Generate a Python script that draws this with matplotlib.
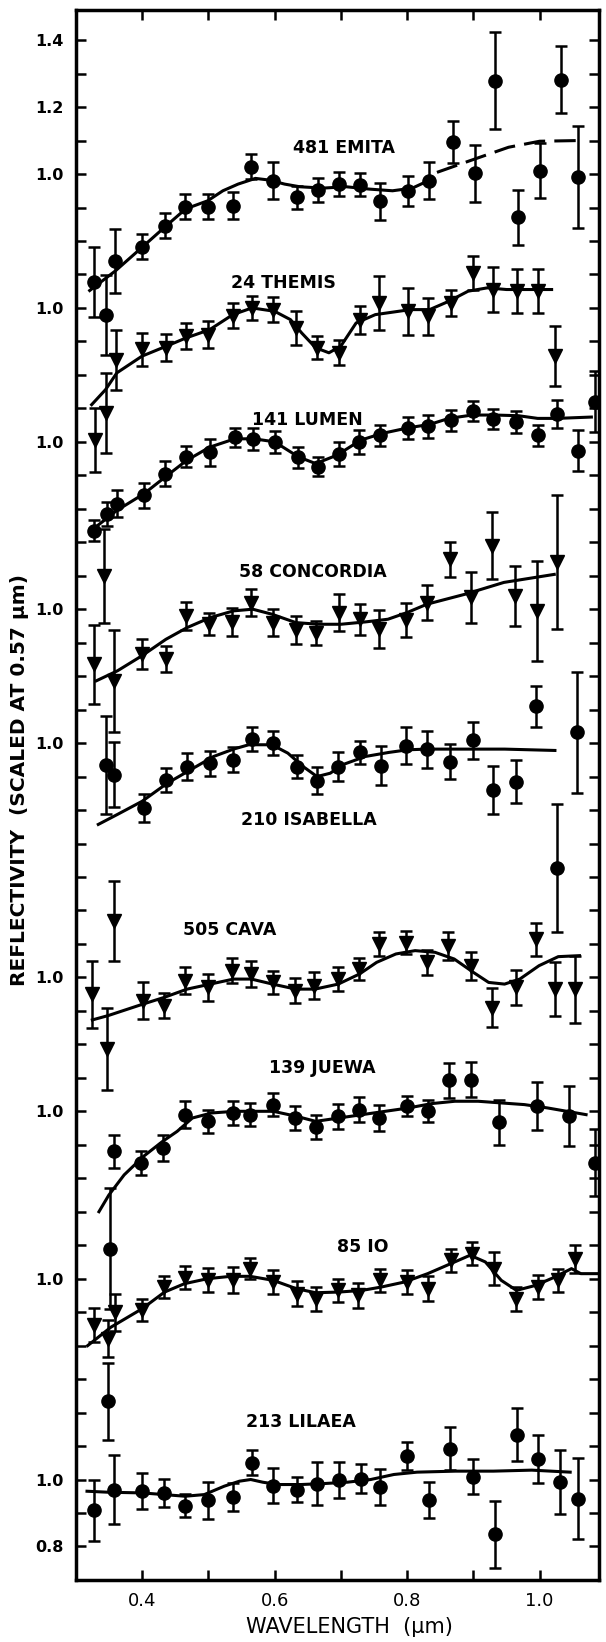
import numpy as np
import matplotlib.pyplot as plt

# ---------------- data ----------------
# wavelength (um), reflectivity scaled at 0.57 um, 1-sigma error, hand-drawn fit

emita_wl = [0.327, 0.345, 0.359, 0.40, 0.434, 0.465, 0.50, 0.537, 0.565, 0.598, 0.634, 0.665,
            0.697, 0.729, 0.759, 0.802, 0.833, 0.869, 0.902, 0.933, 0.968, 1.00, 1.032, 1.058]
emita_r = [0.677, 0.578, 0.741, 0.783, 0.846, 0.902, 0.903, 0.905, 1.022, 0.980, 0.930, 0.952,
           0.970, 0.968, 0.918, 0.950, 0.980, 1.095, 1.002, 1.279, 0.871, 1.010, 1.282, 0.992]
emita_err = [0.105, 0.12, 0.095, 0.037, 0.037, 0.037, 0.037, 0.04, 0.038, 0.055, 0.035, 0.035,
             0.035, 0.035, 0.055, 0.045, 0.055, 0.062, 0.085, 0.145, 0.082, 0.082, 0.10, 0.153]
emita_fit_wl = [0.321, 0.36, 0.40, 0.434, 0.466, 0.499, 0.522, 0.545, 0.571, 0.592, 0.615, 0.638,
                0.673, 0.708, 0.743, 0.778, 0.808, 0.834]
emita_fit_r = [0.652, 0.711, 0.781, 0.841, 0.896, 0.92, 0.95, 0.97, 0.987, 0.982, 0.97, 0.962,
               0.958, 0.962, 0.955, 0.95, 0.958, 0.982]
emita_ext_wl = [0.845, 0.895, 0.953, 1.0, 1.058]
emita_ext_r = [1.005, 1.04, 1.08, 1.098, 1.10]

themis_wl = [0.329, 0.345, 0.36, 0.40, 0.436, 0.466, 0.50, 0.537, 0.566, 0.598, 0.633, 0.664,
             0.697, 0.729, 0.758, 0.802, 0.831, 0.866, 0.90, 0.93, 0.966, 0.998, 1.023]
themis_r = [0.606, 0.687, 0.845, 0.876, 0.881, 0.916, 0.920, 0.977, 1.0, 0.995, 0.940, 0.881,
            0.866, 0.965, 1.015, 0.99, 0.975, 1.015, 1.104, 1.055, 1.05, 1.05, 0.856]
themis_err = [0.095, 0.12, 0.09, 0.048, 0.04, 0.04, 0.04, 0.038, 0.037, 0.037, 0.05, 0.035,
              0.037, 0.042, 0.08, 0.07, 0.055, 0.04, 0.05, 0.066, 0.066, 0.066, 0.09]
themis_fit_wl = [0.324, 0.345, 0.362, 0.40, 0.437, 0.466, 0.502, 0.537, 0.566, 0.60, 0.624, 0.641,
                 0.662, 0.682, 0.70, 0.723, 0.752, 0.805, 0.834, 0.863, 0.892, 0.921, 0.95, 1.018]
themis_fit_r = [0.711, 0.756, 0.806, 0.856, 0.886, 0.91, 0.935, 0.98, 1.0, 0.99, 0.965, 0.925,
                0.881, 0.866, 0.886, 0.955, 0.98, 0.995, 0.995, 1.02, 1.05, 1.06, 1.055, 1.055]

lumen_wl = [0.328, 0.347, 0.362, 0.403, 0.435, 0.467, 0.502, 0.54, 0.568, 0.60, 0.636, 0.665,
            0.697, 0.728, 0.759, 0.802, 0.831, 0.866, 0.899, 0.93, 0.965, 0.997, 1.026, 1.058, 1.084]
lumen_r = [0.735, 0.785, 0.815, 0.84, 0.905, 0.956, 0.969, 1.014, 1.009, 1.0, 0.954, 0.926,
           0.964, 1.0, 1.019, 1.042, 1.046, 1.064, 1.093, 1.069, 1.059, 1.019, 1.084, 0.974, 1.12]
lumen_err = [0.03, 0.035, 0.04, 0.037, 0.037, 0.032, 0.04, 0.028, 0.032, 0.032, 0.032, 0.028,
             0.035, 0.035, 0.032, 0.033, 0.035, 0.032, 0.03, 0.03, 0.033, 0.03, 0.042, 0.062, 0.092]
lumen_fit_wl = [0.333, 0.362, 0.403, 0.435, 0.467, 0.502, 0.54, 0.569, 0.60, 0.636, 0.662, 0.694,
                0.73, 0.762, 0.802, 0.834, 0.863, 0.898, 0.933, 0.968, 0.997, 1.026, 1.078]
lumen_fit_r = [0.75, 0.795, 0.845, 0.895, 0.944, 0.984, 1.009, 1.009, 1.0, 0.955, 0.935, 0.96,
               1.005, 1.025, 1.042, 1.052, 1.07, 1.08, 1.08, 1.078, 1.07, 1.07, 1.074]

concordia_wl = [0.327, 0.343, 0.358, 0.40, 0.436, 0.467, 0.501, 0.536, 0.565, 0.598, 0.633, 0.663,
                0.697, 0.729, 0.758, 0.799, 0.83, 0.864, 0.897, 0.928, 0.962, 0.996, 1.026]
concordia_r = [0.836, 1.099, 0.786, 0.866, 0.851, 0.98, 0.955, 0.962, 1.02, 0.96, 0.938, 0.93,
               0.99, 0.97, 0.94, 0.968, 1.02, 1.149, 1.035, 1.189, 1.04, 0.995, 1.14]
concordia_err = [0.118, 0.14, 0.153, 0.045, 0.039, 0.042, 0.033, 0.042, 0.04, 0.04, 0.041, 0.036,
                 0.054, 0.047, 0.057, 0.051, 0.052, 0.052, 0.075, 0.1, 0.09, 0.15, 0.2]
concordia_fit_wl = [0.331, 0.363, 0.40, 0.436, 0.468, 0.503, 0.538, 0.567, 0.596, 0.632, 0.666,
                    0.70, 0.737, 0.771, 0.80, 0.83, 0.888, 0.946, 1.022]
concordia_fit_r = [0.786, 0.816, 0.861, 0.91, 0.945, 0.975, 0.995, 1.0, 0.985, 0.96, 0.955,
                   0.955, 0.962, 0.97, 0.99, 1.015, 1.045, 1.08, 1.104]

isabella_wl = [0.345, 0.358, 0.403, 0.436, 0.468, 0.502, 0.538, 0.566, 0.598, 0.634, 0.664, 0.696,
               0.729, 0.76, 0.799, 0.83, 0.865, 0.899, 0.93, 0.964, 0.995, 1.026, 1.056]
isabella_r = [0.935, 0.905, 0.806, 0.89, 0.93, 0.94, 0.95, 1.012, 1.0, 0.93, 0.888, 0.93,
              0.972, 0.933, 0.992, 0.982, 0.945, 1.008, 0.861, 0.885, 1.11, 0.627, 1.032]
isabella_err = [0.147, 0.097, 0.041, 0.035, 0.04, 0.037, 0.037, 0.035, 0.036, 0.035, 0.04, 0.042,
                0.035, 0.057, 0.055, 0.055, 0.052, 0.055, 0.072, 0.065, 0.062, 0.19, 0.18]
isabella_fit_wl = [0.334, 0.363, 0.40, 0.438, 0.473, 0.508, 0.538, 0.561, 0.596, 0.62, 0.643,
                   0.664, 0.684, 0.702, 0.737, 0.772, 0.801, 0.83, 0.888, 0.947, 1.023]
isabella_fit_r = [0.757, 0.787, 0.826, 0.88, 0.92, 0.96, 0.982, 0.995, 0.995, 0.97, 0.93,
                  0.9, 0.91, 0.935, 0.96, 0.972, 0.98, 0.982, 0.982, 0.982, 0.978]

cava_wl = [0.325, 0.347, 0.358, 0.401, 0.433, 0.465, 0.499, 0.536, 0.565, 0.598, 0.631, 0.66,
           0.695, 0.728, 0.757, 0.798, 0.83, 0.862, 0.897, 0.928, 0.964, 0.994, 1.023, 1.054]
cava_r = [0.95, 0.786, 1.169, 0.93, 0.915, 0.99, 0.97, 1.02, 1.01, 0.985, 0.96, 0.975,
          0.995, 1.025, 1.1, 1.104, 1.045, 1.095, 1.035, 0.91, 0.97, 1.114, 0.965, 0.965]
cava_err = [0.1, 0.122, 0.12, 0.055, 0.037, 0.04, 0.041, 0.037, 0.039, 0.035, 0.037, 0.04,
            0.037, 0.032, 0.036, 0.035, 0.037, 0.042, 0.042, 0.057, 0.052, 0.05, 0.08, 0.1]
cava_fit_wl = [0.325, 0.349, 0.401, 0.433, 0.468, 0.503, 0.538, 0.565, 0.597, 0.632, 0.661, 0.696,
               0.728, 0.754, 0.783, 0.812, 0.842, 0.871, 0.90, 0.923, 0.947, 0.97, 0.999, 1.028, 1.06]
cava_fit_r = [0.873, 0.886, 0.92, 0.94, 0.965, 0.98, 0.995, 0.995, 0.98, 0.965, 0.965, 0.98,
              1.01, 1.045, 1.07, 1.08, 1.075, 1.055, 1.015, 0.985, 0.98, 0.995, 1.035, 1.062, 1.065]

juewa_wl = [0.352, 0.358, 0.399, 0.432, 0.465, 0.50, 0.537, 0.563, 0.597, 0.631, 0.662, 0.696,
            0.727, 0.758, 0.80, 0.831, 0.863, 0.897, 0.939, 0.996, 1.044, 1.084]
juewa_r = [0.59, 0.88, 0.845, 0.89, 0.99, 0.97, 0.995, 0.99, 1.02, 0.98, 0.953, 0.985,
           1.005, 0.98, 1.015, 1.0, 1.093, 1.095, 0.967, 1.015, 0.985, 0.846]
juewa_err = [0.18, 0.048, 0.035, 0.038, 0.04, 0.035, 0.035, 0.035, 0.035, 0.037, 0.035, 0.037,
             0.037, 0.04, 0.03, 0.033, 0.052, 0.053, 0.067, 0.072, 0.09, 0.1]
juewa_fit_wl = [0.335, 0.35, 0.373, 0.402, 0.431, 0.453, 0.476, 0.505, 0.54, 0.598, 0.633, 0.662,
                0.697, 0.732, 0.767, 0.802, 0.837, 0.872, 0.907, 0.942, 0.977, 1.012, 1.07]
juewa_fit_r = [0.70, 0.75, 0.81, 0.865, 0.91, 0.94, 0.98, 0.995, 1.0, 1.0, 0.985, 0.97,
               0.98, 0.99, 1.0, 1.01, 1.023, 1.03, 1.03, 1.025, 1.02, 1.01, 0.99]

io_wl = [0.327, 0.349, 0.359, 0.40, 0.433, 0.465, 0.50, 0.537, 0.563, 0.597, 0.634, 0.662,
         0.696, 0.726, 0.759, 0.80, 0.831, 0.866, 0.898, 0.931, 0.965, 0.997, 1.028, 1.054]
io_r = [0.861, 0.821, 0.90, 0.906, 0.975, 1.003, 0.995, 0.995, 1.03, 0.99, 0.955, 0.94,
        0.965, 0.95, 0.995, 0.99, 0.97, 1.055, 1.075, 1.03, 0.94, 0.975, 0.995, 1.06]
io_err = [0.05, 0.055, 0.055, 0.032, 0.033, 0.035, 0.036, 0.039, 0.032, 0.037, 0.037, 0.036,
          0.035, 0.037, 0.035, 0.035, 0.037, 0.034, 0.035, 0.05, 0.036, 0.037, 0.035, 0.042]
io_fit_wl = [0.318, 0.353, 0.40, 0.434, 0.464, 0.499, 0.534, 0.563, 0.598, 0.633, 0.662, 0.697,
             0.732, 0.761, 0.796, 0.831, 0.866, 0.895, 0.918, 0.942, 0.965, 0.994, 1.023, 1.048,
             1.062, 1.09]
io_fit_r = [0.80, 0.855, 0.91, 0.96, 0.985, 1.0, 1.007, 1.007, 0.995, 0.97, 0.958, 0.96,
            0.965, 0.975, 0.99, 1.015, 1.045, 1.07, 1.05, 0.995, 0.965, 0.98, 1.005, 1.03,
            1.015, 1.015]

lilaea_wl = [0.327, 0.349, 0.358, 0.40, 0.433, 0.465, 0.50, 0.538, 0.566, 0.597, 0.634, 0.664,
             0.697, 0.73, 0.759, 0.80, 0.833, 0.865, 0.90, 0.932, 0.966, 0.998, 1.03, 1.058]
lilaea_r = [0.908, 1.234, 0.97, 0.965, 0.96, 0.922, 0.938, 0.948, 1.05, 0.982, 0.97, 0.988,
            0.998, 1.002, 0.978, 1.07, 0.938, 1.092, 1.008, 0.836, 1.134, 1.062, 0.993, 0.943]
lilaea_err = [0.092, 0.115, 0.104, 0.053, 0.041, 0.035, 0.055, 0.042, 0.037, 0.053, 0.037, 0.063,
              0.053, 0.043, 0.053, 0.042, 0.054, 0.065, 0.052, 0.099, 0.08, 0.072, 0.096, 0.122]
lilaea_fit_wl = [0.317, 0.349, 0.40, 0.433, 0.465, 0.494, 0.524, 0.547, 0.564, 0.582, 0.605,
                 0.64, 0.675, 0.71, 0.745, 0.78, 0.815, 0.873, 0.93, 0.988, 1.046]
lilaea_fit_r = [0.965, 0.962, 0.96, 0.955, 0.95, 0.955, 0.98, 0.995, 1.0, 0.992, 0.985,
                0.985, 0.988, 0.992, 1.0, 1.015, 1.022, 1.025, 1.025, 1.028, 1.022]

names = ['481 EMITA', '24 THEMIS', '141 LUMEN', '58 CONCORDIA', '210 ISABELLA',
         '505 CAVA', '139 JUEWA', '85 IO', '213 LILAEA']

# ---------------- layout ----------------
offsets = [3.9, 3.5, 3.1, 2.6, 2.2, 1.5, 1.1, 0.6, 0.0]
markers = ['o', 'v', 'o', 'v', 'o', 'v', 'o', 'v', 'o']
label_xy = [(0.705, 1.079), (0.614, 1.073), (0.650, 1.064), (0.658, 1.110), (0.652, 0.770),
            (0.533, 1.142), (0.672, 1.130), (0.733, 1.096), (0.640, 1.173)]

spectra = [
    (emita_wl, emita_r, emita_err, emita_fit_wl, emita_fit_r),
    (themis_wl, themis_r, themis_err, themis_fit_wl, themis_fit_r),
    (lumen_wl, lumen_r, lumen_err, lumen_fit_wl, lumen_fit_r),
    (concordia_wl, concordia_r, concordia_err, concordia_fit_wl, concordia_fit_r),
    (isabella_wl, isabella_r, isabella_err, isabella_fit_wl, isabella_fit_r),
    (cava_wl, cava_r, cava_err, cava_fit_wl, cava_fit_r),
    (juewa_wl, juewa_r, juewa_err, juewa_fit_wl, juewa_fit_r),
    (io_wl, io_r, io_err, io_fit_wl, io_fit_r),
    (lilaea_wl, lilaea_r, lilaea_err, lilaea_fit_wl, lilaea_fit_r),
]

fig = plt.figure(figsize=(6.06, 16.42), dpi=100)
ax = fig.add_axes([0.125, 0.0378, 0.864, 0.9561])

for (wl, r, err, fwl, fr), off, mk, name, (lx, ly) in zip(spectra, offsets, markers, names, label_xy):
    r = np.array(r) + off
    ms = 9.5 if mk == 'o' else 10.5
    ax.errorbar(wl, r, yerr=err, fmt=mk, color='black', ms=ms, capsize=4.5,
                elinewidth=1.8, capthick=1.8, zorder=3)
    ax.plot(fwl, np.array(fr) + off, color='black', lw=2.2, zorder=2)
    ax.text(lx, ly + off, name, ha='center', va='center', fontsize=12.5,
            fontweight='bold', family='DejaVu Sans')

# dashed extension of the EMITA fit
ax.plot(emita_ext_wl, np.array(emita_ext_r) + offsets[0], color='black', lw=2.2,
        dashes=(7, 3), zorder=2)

ax.set_xlim(0.30, 1.09)
ax.set_ylim(0.70, 5.39)

# x ticks
ax.set_xticks([0.4, 0.6, 0.8, 1.0])
ax.set_xticklabels(['0.4', '0.6', '0.8', '1.0'], fontsize=13)
ax.set_xticks([0.5, 0.7, 0.9], minor=True)

# y ticks: one 0.1 grid shared by all spectra, 1.0 labelled for each
ytick_pos = [5.3, 5.1] + [o + 1.0 for o in offsets] + [0.8]
ytick_lab = ['1.4', '1.2'] + ['1.0'] * len(offsets) + ['0.8']
ax.set_yticks(ytick_pos)
ax.set_yticklabels(ytick_lab, fontsize=11.5, fontweight='bold')
ax.set_yticks(np.round(np.arange(0.8, 5.35, 0.1), 2), minor=True)

ax.tick_params(which='both', direction='in', top=True, right=True, length=7, width=1.8)
ax.tick_params(axis='y', which='major', pad=9)
ax.tick_params(axis='x', which='major', pad=9)
for sp in ax.spines.values():
    sp.set_linewidth(2.5)

fig.text(0.576, 0.009, 'WAVELENGTH  (μm)', ha='center', va='center', fontsize=15)
fig.text(0.033, 0.525, 'REFLECTIVITY  (SCALED AT 0.57 μm)', ha='center', va='center',
         rotation=90, fontsize=14.5, fontweight='bold')

fig.savefig('out.png', dpi=100, facecolor='white')
